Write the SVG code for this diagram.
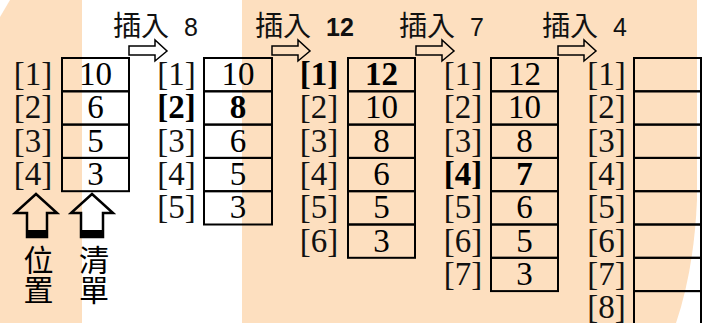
<svg xmlns="http://www.w3.org/2000/svg" width="715" height="323" viewBox="0 0 715 323">
<style>
.bg{fill:#FDDFBF}
.cell{fill:none;stroke:#000;stroke-width:2}
.lbl{font-family:'Liberation Serif','DejaVu Serif',serif;font-size:33px;fill:#111;text-anchor:middle}
.num{font-family:'Liberation Serif','DejaVu Serif',serif;font-size:33px;fill:#000;text-anchor:middle}
.b{font-weight:bold;fill:#000}
.sarrow{fill:none;stroke:#000;stroke-width:1.5;stroke-linejoin:miter}
.uarrow{fill:none;stroke:#000;stroke-width:2.5;stroke-linejoin:miter}
</style>
<defs>
<path id="sa" d="M0,6 L26,6 L26,0 L38,11 L26,21 L26,15 L0,15 Z"/>
</defs>
<rect width="715" height="323" fill="#fff"/>
<path class="bg" d="M10,0 L82,0 L82,323 L0,323 L0,17 Z"/>
<path class="bg" d="M242,0 L697,0 L697,200 Q694,270 676,323 L242,323 Z"/>

<g id="connectors">
<use href="#sa" class="sarrow" x="129" y="40"/>
<use href="#sa" class="sarrow" x="272" y="40"/>
<use href="#sa" class="sarrow" x="416" y="40"/>
<use href="#sa" class="sarrow" x="558" y="40"/>
<path class="uarrow" d="M36,194 L57,213 L47,213 L47,237 L27,237 L27,213 L15,213 Z"/>
<rect x="27" y="230" width="20" height="7" fill="#000"/>
<path class="uarrow" d="M92,194 L113,213 L103,213 L103,237 L81,237 L81,213 L71,213 Z"/>
<rect x="81" y="230" width="22" height="7" fill="#000"/>
</g>

<g id="titles" fill="#111">
<text y="36" font-family="'Noto Sans CJK TC','Noto Sans CJK SC',sans-serif" font-size="28"><tspan x="113">插入</tspan><tspan x="184" font-family="'Liberation Sans',Arial,sans-serif" font-size="25">8</tspan></text>
<text y="36" font-family="'Noto Sans CJK TC','Noto Sans CJK SC',sans-serif" font-size="28"><tspan x="255">插入</tspan><tspan x="326" font-family="'Liberation Sans',Arial,sans-serif" font-size="25" font-weight="bold">12</tspan></text>
<text y="36" font-family="'Noto Sans CJK TC','Noto Sans CJK SC',sans-serif" font-size="28"><tspan x="399">插入</tspan><tspan x="470" font-family="'Liberation Sans',Arial,sans-serif" font-size="25">7</tspan></text>
<text y="36" font-family="'Noto Sans CJK TC','Noto Sans CJK SC',sans-serif" font-size="28"><tspan x="542">插入</tspan><tspan x="613" font-family="'Liberation Sans',Arial,sans-serif" font-size="25">4</tspan></text>
</g>

<g id="list0">
<rect class="cell" x="62" y="58" width="67" height="33.3"/>
<rect class="cell" x="62" y="91.3" width="67" height="33.3"/>
<rect class="cell" x="62" y="124.6" width="67" height="33.3"/>
<rect class="cell" x="62" y="157.9" width="67" height="33.3"/>
<text class="lbl" x="33" y="85">[1]</text>
<text class="lbl" x="33" y="118.3">[2]</text>
<text class="lbl" x="33" y="151.6">[3]</text>
<text class="lbl" x="33" y="184.9">[4]</text>
<text class="num" x="95.5" y="85">10</text>
<text class="num" x="95.5" y="118.3">6</text>
<text class="num" x="95.5" y="151.6">5</text>
<text class="num" x="95.5" y="184.9">3</text>
</g>

<g id="list1">
<rect class="cell" x="204" y="58" width="68" height="33.3"/>
<rect class="cell" x="204" y="91.3" width="68" height="33.3"/>
<rect class="cell" x="204" y="124.6" width="68" height="33.3"/>
<rect class="cell" x="204" y="157.9" width="68" height="33.3"/>
<rect class="cell" x="204" y="191.2" width="68" height="33.3"/>
<text class="lbl" x="176.5" y="85">[1]</text>
<text class="lbl b" x="176.5" y="118.3">[2]</text>
<text class="lbl" x="176.5" y="151.6">[3]</text>
<text class="lbl" x="176.5" y="184.9">[4]</text>
<text class="lbl" x="176.5" y="218.2">[5]</text>
<text class="num" x="238" y="85">10</text>
<text class="num b" x="238" y="118.3">8</text>
<text class="num" x="238" y="151.6">6</text>
<text class="num" x="238" y="184.9">5</text>
<text class="num" x="238" y="218.2">3</text>
</g>

<g id="list2">
<rect class="cell" x="348" y="58" width="67" height="33.3"/>
<rect class="cell" x="348" y="91.3" width="67" height="33.3"/>
<rect class="cell" x="348" y="124.6" width="67" height="33.3"/>
<rect class="cell" x="348" y="157.9" width="67" height="33.3"/>
<rect class="cell" x="348" y="191.2" width="67" height="33.3"/>
<rect class="cell" x="348" y="224.5" width="67" height="33.3"/>
<text class="lbl b" x="319" y="85">[1]</text>
<text class="lbl" x="319" y="118.3">[2]</text>
<text class="lbl" x="319" y="151.6">[3]</text>
<text class="lbl" x="319" y="184.9">[4]</text>
<text class="lbl" x="319" y="218.2">[5]</text>
<text class="lbl" x="319" y="251.5">[6]</text>
<text class="num b" x="381.5" y="85">12</text>
<text class="num" x="381.5" y="118.3">10</text>
<text class="num" x="381.5" y="151.6">8</text>
<text class="num" x="381.5" y="184.9">6</text>
<text class="num" x="381.5" y="218.2">5</text>
<text class="num" x="381.5" y="251.5">3</text>
</g>

<g id="list3">
<rect class="cell" x="491" y="58" width="67" height="33.3"/>
<rect class="cell" x="491" y="91.3" width="67" height="33.3"/>
<rect class="cell" x="491" y="124.6" width="67" height="33.3"/>
<rect class="cell" x="491" y="157.9" width="67" height="33.3"/>
<rect class="cell" x="491" y="191.2" width="67" height="33.3"/>
<rect class="cell" x="491" y="224.5" width="67" height="33.3"/>
<rect class="cell" x="491" y="257.8" width="67" height="33.3"/>
<text class="lbl" x="463" y="85">[1]</text>
<text class="lbl" x="463" y="118.3">[2]</text>
<text class="lbl" x="463" y="151.6">[3]</text>
<text class="lbl b" x="463" y="184.9">[4]</text>
<text class="lbl" x="463" y="218.2">[5]</text>
<text class="lbl" x="463" y="251.5">[6]</text>
<text class="lbl" x="463" y="284.8">[7]</text>
<text class="num" x="524.5" y="85">12</text>
<text class="num" x="524.5" y="118.3">10</text>
<text class="num" x="524.5" y="151.6">8</text>
<text class="num b" x="524.5" y="184.9">7</text>
<text class="num" x="524.5" y="218.2">6</text>
<text class="num" x="524.5" y="251.5">5</text>
<text class="num" x="524.5" y="284.8">3</text>
</g>

<g id="list4">
<rect class="cell" x="634" y="58" width="67" height="33.3"/>
<rect class="cell" x="634" y="91.3" width="67" height="33.3"/>
<rect class="cell" x="634" y="124.6" width="67" height="33.3"/>
<rect class="cell" x="634" y="157.9" width="67" height="33.3"/>
<rect class="cell" x="634" y="191.2" width="67" height="33.3"/>
<rect class="cell" x="634" y="224.5" width="67" height="33.3"/>
<rect class="cell" x="634" y="257.8" width="67" height="33.3"/>
<rect class="cell" x="634" y="291.1" width="67" height="33.3"/>
<text class="lbl" x="606.5" y="85">[1]</text>
<text class="lbl" x="606.5" y="118.3">[2]</text>
<text class="lbl" x="606.5" y="151.6">[3]</text>
<text class="lbl" x="606.5" y="184.9">[4]</text>
<text class="lbl" x="606.5" y="218.2">[5]</text>
<text class="lbl" x="606.5" y="251.5">[6]</text>
<text class="lbl" x="606.5" y="284.8">[7]</text>
<text class="lbl" x="606.5" y="318.1">[8]</text>
</g>

<g id="legend" font-family="'Noto Sans CJK TC','Noto Sans CJK SC',sans-serif" font-size="30" fill="#000">
<text x="38.5" y="245" writing-mode="tb" style="writing-mode:vertical-rl;text-orientation:upright">位置</text>
<text x="94" y="245" writing-mode="tb" style="writing-mode:vertical-rl;text-orientation:upright">清單</text>
</g>
</svg>
